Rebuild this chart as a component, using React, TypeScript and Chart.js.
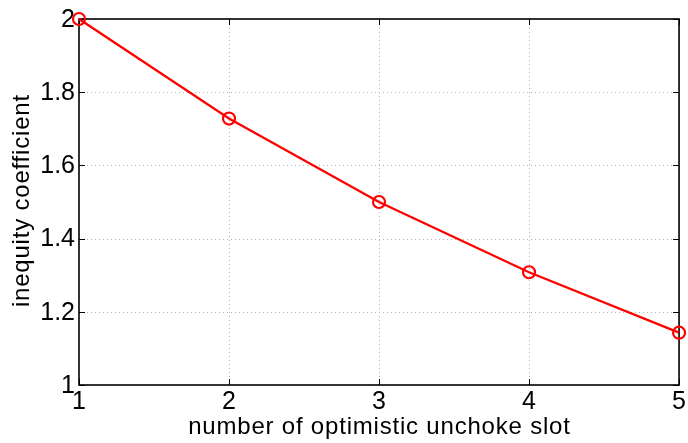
import React, { useEffect, useRef } from "react";
import { Chart, registerables } from "chart.js";

Chart.register(...registerables);

const slots = [1, 2, 3, 4, 5];
const inequity = [2.0, 1.728, 1.5, 1.308, 1.143];
const xTicks = [1, 2, 3, 4, 5];
const yTicks = [1, 1.2, 1.4, 1.6, 1.8, 2];
const xTitle = "number of optimistic unchoke slot";
const yTitle = "inequity coefficient";

const FONT = "'Liberation Sans', Arial, Helvetica, sans-serif";
const TITLE_SIZE = 24;
const TITLE_SPACING = 0.8;

const axesPlugin = {
  id: "matlabAxes",
  beforeDatasetsDraw(chart: any) {
    const { ctx, chartArea } = chart;
    const xs = chart.scales.x;
    const ys = chart.scales.y;
    const { left, right, top, bottom } = chartArea;
    ctx.save();
    ctx.strokeStyle = "#b4b4b4";
    ctx.lineWidth = 1;
    ctx.setLineDash([1, 3]);
    xTicks.forEach((v, i) => {
      if (i === 0 || i === xTicks.length - 1) return;
      const px = Math.round(xs.getPixelForValue(v)) + 0.5;
      ctx.beginPath();
      ctx.moveTo(px, bottom);
      ctx.lineTo(px, top);
      ctx.stroke();
    });
    yTicks.forEach((v, i) => {
      if (i === 0 || i === yTicks.length - 1) return;
      const py = Math.round(ys.getPixelForValue(v)) + 0.5;
      ctx.beginPath();
      ctx.moveTo(left, py);
      ctx.lineTo(right, py);
      ctx.stroke();
    });
    ctx.setLineDash([]);
    ctx.strokeStyle = "#000";
    ctx.lineWidth = 1;
    const tl = 6;
    xTicks.forEach((v) => {
      const px = Math.round(xs.getPixelForValue(v)) + 0.5;
      ctx.beginPath();
      ctx.moveTo(px, bottom);
      ctx.lineTo(px, bottom - tl);
      ctx.moveTo(px, top);
      ctx.lineTo(px, top + tl);
      ctx.stroke();
    });
    yTicks.forEach((v) => {
      const py = Math.round(ys.getPixelForValue(v)) + 0.5;
      ctx.beginPath();
      ctx.moveTo(left, py);
      ctx.lineTo(left + tl, py);
      ctx.moveTo(right, py);
      ctx.lineTo(right - tl, py);
      ctx.stroke();
    });
    ctx.lineWidth = 1.6;
    ctx.strokeRect(left, top, right - left, bottom - top);
    ctx.restore();
  },
  afterDraw(chart: any) {
    const { ctx, chartArea } = chart;
    const { left, right, top, bottom } = chartArea;
    ctx.save();
    ctx.fillStyle = "#000";
    ctx.font = `${TITLE_SIZE}px ${FONT}`;
    (ctx as any).letterSpacing = `${TITLE_SPACING}px`;
    ctx.textAlign = "center";
    ctx.textBaseline = "alphabetic";
    ctx.fillText(xTitle, (left + right) / 2 + TITLE_SPACING / 2, 434);
    ctx.translate(29, (top + bottom) / 2 - 1);
    ctx.rotate(-Math.PI / 2);
    ctx.fillText(yTitle, TITLE_SPACING / 2, 0);
    ctx.restore();
  },
};

export default function App() {
  const ref = useRef<HTMLCanvasElement | null>(null);
  useEffect(() => {
    if (!ref.current) return;
    const chart = new Chart(ref.current, {
      type: "line",
      data: {
        datasets: [
          {
            data: slots.map((s, i) => ({ x: s, y: inequity[i] })),
            borderColor: "#ff0000",
            borderWidth: 2.3,
            pointStyle: "circle",
            pointRadius: 6,
            pointBorderWidth: 2.2,
            pointBorderColor: "#ff0000",
            pointBackgroundColor: "rgba(0,0,0,0)",
            tension: 0,
            clip: false as any,
          },
        ],
      },
      options: {
        responsive: false,
        animation: false,
        events: [],
        layout: { padding: { top: 17, right: 8, left: 0, bottom: 0 } },
        plugins: { legend: { display: false }, tooltip: { enabled: false } },
        scales: {
          x: {
            type: "linear",
            min: 1,
            max: 5,
            afterBuildTicks: (s: any) => {
              s.ticks = xTicks.map((v) => ({ value: v }));
            },
            afterFit: (s: any) => {
              s.height = 58;
            },
            grid: { display: false, drawTicks: false },
            border: { display: false },
            ticks: {
              padding: 2,
              color: "#000",
              font: { family: FONT, size: 25 },
              maxRotation: 0,
            },
          },
          y: {
            type: "linear",
            min: 1,
            max: 2,
            afterBuildTicks: (s: any) => {
              s.ticks = yTicks.map((v) => ({ value: v }));
            },
            afterFit: (s: any) => {
              s.width = 79;
            },
            grid: { display: false, drawTicks: false },
            border: { display: false },
            ticks: {
              padding: 4,
              labelOffset: 1,
              color: "#000",
              font: { family: FONT, size: 25 },
              callback: (v: any) => String(Math.round(Number(v) * 10) / 10),
            },
          },
        },
      },
      plugins: [axesPlugin],
    });
    return () => chart.destroy();
  }, []);
  return (
    <div style={{ position: "fixed", left: 0, top: 0, width: 688, height: 443, background: "#fff" }}>
      <canvas ref={ref} width={688} height={443} style={{ display: "block" }} />
    </div>
  );
}
